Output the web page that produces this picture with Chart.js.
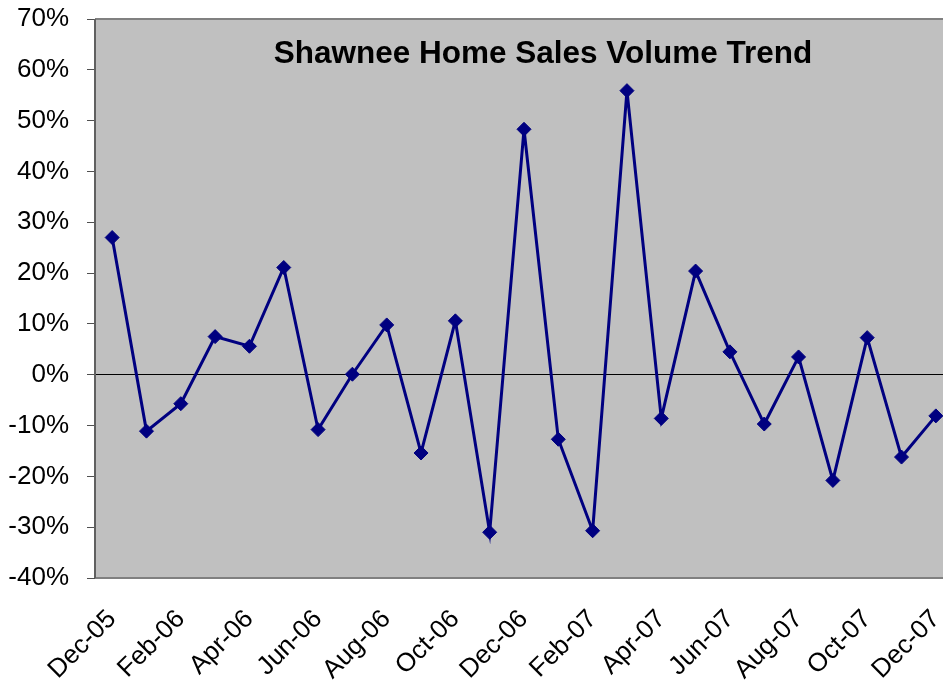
<!DOCTYPE html>
<html>
<head>
<meta charset="utf-8">
<script src="https://cdn.jsdelivr.net/npm/chart.js@4"></script>
<style>
html,body{margin:0;padding:0;background:#fff;overflow:hidden;width:943px;height:684px;}
#wrap{position:absolute;left:0;top:0;width:961px;height:684px;}
</style>
</head>
<body>
<div id="wrap"><canvas id="c"></canvas></div>
<script>
const months = ["Dec-05","Jan-06","Feb-06","Mar-06","Apr-06","May-06","Jun-06","Jul-06","Aug-06","Sep-06","Oct-06","Nov-06","Dec-06","Jan-07","Feb-07","Mar-07","Apr-07","May-07","Jun-07","Jul-07","Aug-07","Sep-07","Oct-07","Nov-07","Dec-07"];
const volumeChange = [27.0,-11.1,-5.7,7.5,5.6,21.1,-10.8,0.1,9.8,-15.4,10.6,-31.0,48.3,-12.7,-30.7,55.9,-8.6,20.4,4.5,-9.7,3.5,-20.8,7.3,-16.2,-8.1];
const titleText = "Shawnee Home Sales Volume Trend";
const yMin = -40, yMax = 70, yStep = 10;

const plotBg = {
  id: 'plotBg',
  beforeDraw(chart){
    const a = chart.chartArea, ctx = chart.ctx;
    ctx.save();
    ctx.fillStyle = '#C0C0C0';
    ctx.fillRect(a.left, a.top, a.right - a.left, a.bottom - a.top);
    ctx.restore();
  },
  afterDatasetsDraw(chart){
    const a = chart.chartArea, ctx = chart.ctx;
    ctx.save();
    ctx.strokeStyle = '#808080';
    ctx.lineWidth = 2;
    ctx.beginPath();
    ctx.moveTo(a.left, a.top); ctx.lineTo(a.right, a.top);
    ctx.moveTo(a.left, a.bottom); ctx.lineTo(a.right, a.bottom);
    ctx.stroke();
    ctx.strokeStyle = '#606060';
    ctx.beginPath();
    ctx.moveTo(a.left, a.top); ctx.lineTo(a.left, a.bottom);
    ctx.stroke();
    ctx.fillStyle = '#000';
    ctx.font = 'bold 31.5px "Liberation Sans", Arial, sans-serif';
    ctx.textAlign = 'center';
    ctx.textBaseline = 'alphabetic';
    ctx.fillText(titleText, 543, 63);
    ctx.restore();
  }
};

new Chart(document.getElementById('c'), {
  type: 'line',
  data: {
    labels: months,
    datasets: [{
      data: volumeChange,
      borderColor: '#000080',
      backgroundColor: '#000080',
      borderWidth: 3,
      pointStyle: 'rectRot',
      pointRadius: 7,
      pointBorderWidth: 1,
      pointBackgroundColor: '#000080',
      pointBorderColor: '#000080',
      tension: 0,
      fill: false
    }]
  },
  options: {
    responsive: true,
    maintainAspectRatio: false,
    animation: false,
    layout: { padding: { left: 0, right: 0, top: 19, bottom: 0 } },
    plugins: { legend: { display: false }, tooltip: { enabled: false }, title: { display: false } },
    scales: {
      x: {
        offset: true,
        grid: { display: false, drawTicks: false },
        border: { display: false },
        ticks: {
          autoSkip: false,
          maxRotation: 45,
          minRotation: 45,
          padding: 26,
          color: '#000',
          font: { family: '"Liberation Sans", Arial, sans-serif', size: 26 },
          callback: function(v, i){ return i % 2 === 0 ? months[i] : ''; }
        },
        afterFit(s){ s.height = 684 - 578; s.paddingLeft = 0; s.paddingRight = 0; }
      },
      y: {
        min: yMin, max: yMax,
        grid: {
          drawOnChartArea: true,
          color: ctx => (ctx.tick && ctx.tick.value === 0) ? '#000000' : 'rgba(0,0,0,0)',
          lineWidth: 1,
          tickColor: '#505050',
          tickLength: 8
        },
        border: { display: false },
        ticks: {
          stepSize: yStep,
          padding: 18,
          color: '#000',
          font: { family: '"Liberation Sans", Arial, sans-serif', size: 26 },
          callback: v => v + '%'
        },
        afterFit(s){ s.width = 95; s.paddingTop = 0; s.paddingBottom = 0; }
      }
    }
  },
  plugins: [plotBg]
});
</script>
</body>
</html>
